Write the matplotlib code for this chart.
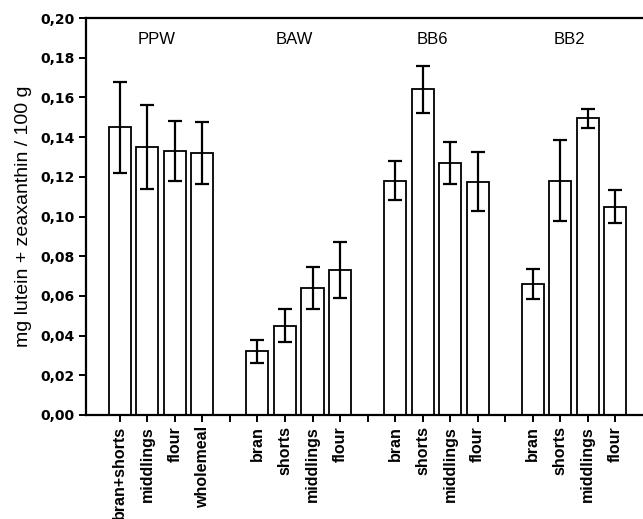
import matplotlib.pyplot as plt
import matplotlib.ticker as mticker
import numpy as np

plt.rcParams['font.family'] = ['Liberation Sans', 'DejaVu Sans']

groups = ['PPW', 'BAW', 'BB6', 'BB2']
fractions = [
    ['bran+shorts', 'middlings', 'flour', 'wholemeal'],
    ['bran', 'shorts', 'middlings', 'flour'],
    ['bran', 'shorts', 'middlings', 'flour'],
    ['bran', 'shorts', 'middlings', 'flour'],
]
means = [
    [0.145, 0.135, 0.133, 0.132],
    [0.032, 0.045, 0.064, 0.073],
    [0.118, 0.164, 0.127, 0.1175],
    [0.066, 0.118, 0.1495, 0.105],
]
errors = [
    [0.023, 0.021, 0.015, 0.0155],
    [0.0057, 0.0084, 0.0107, 0.0142],
    [0.0098, 0.012, 0.0107, 0.0148],
    [0.0077, 0.0204, 0.0048, 0.0085],
]

fig = plt.figure(figsize=(6.43, 5.19), dpi=100)
ax = fig.add_axes([0.1337, 0.2004, 0.866, 0.7649])

# one empty slot between groups
tick_pos = []
tick_lab = []
pos = 0
for gi, g in enumerate(groups):
    x = np.arange(len(fractions[gi])) + pos
    ax.bar(x, means[gi], width=0.8, color='white', edgecolor='black',
           linewidth=1.3, zorder=2)
    ax.errorbar(x, means[gi], yerr=errors[gi], fmt='none', ecolor='black',
                elinewidth=1.6, capsize=5, capthick=1.6, zorder=3)
    ax.text(x.mean() - 0.15, 0.189, g, ha='center', va='center', fontsize=12)
    tick_pos.extend(x)
    tick_lab.extend(fractions[gi])
    pos = x[-1] + 1
    if gi < len(groups) - 1:
        tick_pos.append(pos)
        tick_lab.append('')
        pos += 1

ax.set_xlim(-1.23, 19.0)
ax.set_ylim(0, 0.2)
ax.set_xticks(tick_pos)
ax.set_xticklabels(tick_lab, rotation=90, fontsize=11.5, fontweight='bold')
ax.set_yticks(np.arange(0, 0.201, 0.02))
ax.yaxis.set_major_formatter(mticker.FuncFormatter(lambda v, p: '{:.2f}'.format(v).replace('.', ',')))
for lab in ax.get_yticklabels():
    lab.set_fontsize(10)
    lab.set_fontweight('bold')
    lab.set_family('DejaVu Sans')
ax.set_ylabel('mg lutein + zeaxanthin / 100 g', fontsize=14, labelpad=6)

ax.spines['right'].set_visible(False)
for s in ['left', 'top', 'bottom']:
    ax.spines[s].set_linewidth(1.6)
ax.tick_params(direction='out', length=5, width=1.4, pad=3)

fig.savefig('out.png', dpi=100)
